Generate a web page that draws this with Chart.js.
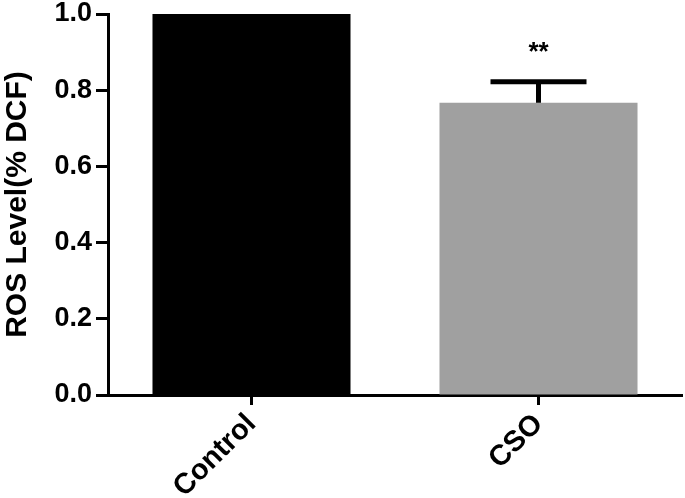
<!DOCTYPE html>
<html>
<head>
<meta charset="utf-8">
<script src="https://cdn.jsdelivr.net/npm/chart.js@4"></script>
<style>
html,body{margin:0;padding:0;background:#fff;}
#wrap{width:685px;height:498px;}
</style>
</head>
<body>
<div id="wrap"><canvas id="c" width="685" height="498"></canvas></div>
<script>
const categories = ['Control', 'CSO'];
const values = [1.0, 0.767];
const errors = [0, 0.055];
const significance = ['', '**'];
const barColors = ['#000000', '#a0a0a0'];
const yTitle = 'ROS Level(% DCF)';

const errorBarPlugin = {
  id: 'errorBars',
  afterDatasetsDraw(chart) {
    const ctx = chart.ctx;
    const meta = chart.getDatasetMeta(0);
    const y = chart.scales.y;
    meta.data.forEach((bar, i) => {
      const x = bar.x;
      const top = y.getPixelForValue(values[i]);
      const eTop = y.getPixelForValue(values[i] + errors[i]);
      ctx.save();
      ctx.strokeStyle = '#000';
      ctx.fillStyle = '#000';
      if (errors[i] > 0) {
        ctx.lineWidth = 5;
        ctx.beginPath();
        ctx.moveTo(x, top);
        ctx.lineTo(x, eTop);
        ctx.stroke();
        ctx.beginPath();
        ctx.moveTo(x - 48, eTop);
        ctx.lineTo(x + 48, eTop);
        ctx.stroke();
      }
      if (significance[i]) {
        ctx.font = 'bold 26px "Liberation Sans", Arial, sans-serif';
        ctx.textAlign = 'center';
        ctx.textBaseline = 'middle';
        ctx.fillText(significance[i], x, eTop - 29);
      }
      ctx.restore();
    });
  }
};

new Chart(document.getElementById('c'), {
  type: 'bar',
  data: {
    labels: categories,
    datasets: [{
      data: values,
      backgroundColor: barColors,
      borderWidth: 0,
      categoryPercentage: 1.0,
      barPercentage: 0.69
    }]
  },
  options: {
    responsive: false,
    animation: false,
    devicePixelRatio: 1,
    layout: { padding: { top: 14, right: 3, left: 0, bottom: 0 } },
    plugins: { legend: { display: false }, tooltip: { enabled: false } },
    scales: {
      x: {
        afterFit(scale) { scale.height = 103; scale.paddingLeft = 0; scale.paddingRight = 0; },
        grid: { display: true, offset: false, drawOnChartArea: false, drawTicks: true, tickLength: 10, tickWidth: 3, color: '#000' },
        border: { display: true, color: '#000', width: 3 },
        ticks: {
          color: '#000',
          maxRotation: 45, minRotation: 45,
          padding: 2,
          font: { family: '"Liberation Sans", Arial, sans-serif', size: 29, weight: 'bold' }
        }
      },
      y: {
        min: 0, max: 1.0,
        afterFit(scale) { scale.width = 108; scale.paddingTop = 0; scale.paddingBottom = 0; },
        grid: { display: true, drawOnChartArea: false, drawTicks: true, tickLength: 12, tickWidth: 3, color: '#000' },
        border: { display: true, color: '#000', width: 3 },
        ticks: {
          stepSize: 0.2,
          color: '#000',
          padding: 4,
          font: { family: '"Liberation Sans", Arial, sans-serif', size: 27, weight: 'bold' },
          callback: v => Number(v).toFixed(1)
        },
        title: {
          display: true,
          text: yTitle,
          color: '#000',
          padding: { top: 0, bottom: 4 },
          font: { family: '"Liberation Sans", Arial, sans-serif', size: 30, weight: 'bold' }
        }
      }
    }
  },
  plugins: [errorBarPlugin]
});
</script>
</body>
</html>
